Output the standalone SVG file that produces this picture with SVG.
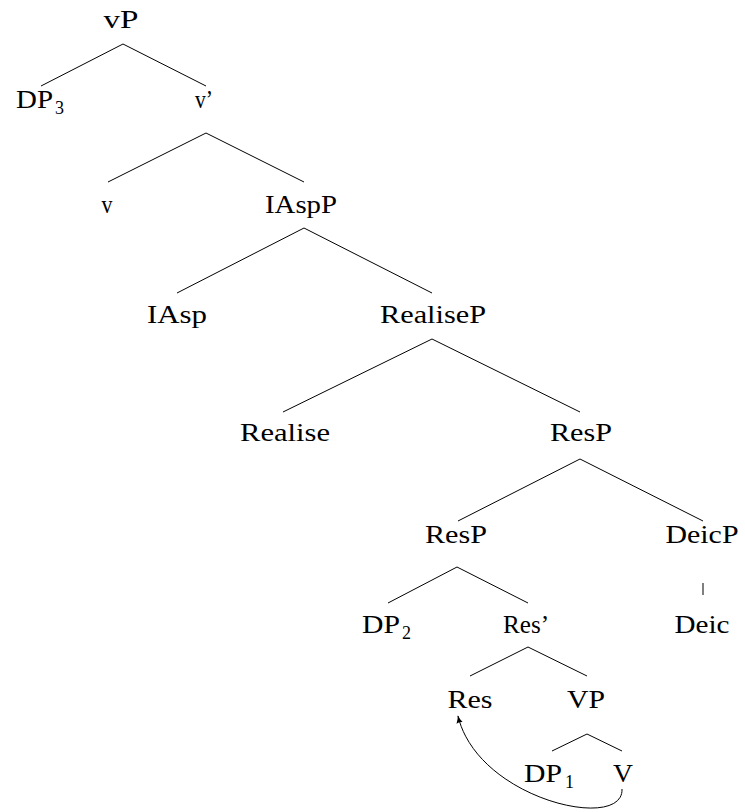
<svg xmlns="http://www.w3.org/2000/svg" width="745" height="812" viewBox="0 0 745 812">
<style>
text{font-family:"Liberation Serif","Times New Roman",serif;font-size:25px;fill:#000}
.c{text-anchor:middle}
.sub{font-size:18px}
.e{stroke:#000;stroke-width:1;fill:none}
</style>
<defs>
<marker id="ah" viewBox="0 0 10 10" refX="9" refY="5" markerWidth="8" markerHeight="8" markerUnits="userSpaceOnUse" orient="auto">
<path d="M0,1 Q5,4 10,5 Q5,6 0,9 Q2,5 0,1 Z" fill="#000"/>
</marker>
</defs>
<rect width="745" height="812" fill="#fff"/>
<g id="connectors" class="e">
<line x1="123" y1="44" x2="41" y2="86"/>
<line x1="123" y1="44" x2="206" y2="86"/>
<line x1="206" y1="133" x2="108" y2="182"/>
<line x1="206" y1="133" x2="304" y2="182"/>
<line x1="304" y1="228" x2="177" y2="293"/>
<line x1="304" y1="228" x2="432" y2="293"/>
<line x1="432" y1="339" x2="283" y2="412"/>
<line x1="432" y1="339" x2="580" y2="412"/>
<line x1="580" y1="459" x2="458" y2="521"/>
<line x1="580" y1="459" x2="703" y2="521"/>
<line x1="457" y1="567" x2="388" y2="603"/>
<line x1="457" y1="567" x2="528" y2="603"/>
<line x1="703" y1="583" x2="703" y2="595"/>
<line x1="528" y1="647" x2="470" y2="676"/>
<line x1="528" y1="647" x2="587" y2="676"/>
<line x1="587" y1="734" x2="552" y2="751"/>
<line x1="587" y1="734" x2="622" y2="751"/>
<path d="M622,789 C624,832 478,800 458,716" marker-end="url(#ah)"/>
</g>
<g id="vP"><text class="c" x="121" y="28" textLength="35" lengthAdjust="spacingAndGlyphs">vP</text></g>
<g id="DP3"><text x="16" y="108" textLength="37" lengthAdjust="spacingAndGlyphs">DP</text><text class="sub" x="55" y="114">3</text></g>
<g id="vbar"><text class="c" x="204" y="108" textLength="18" lengthAdjust="spacingAndGlyphs">v’</text></g>
<g id="v"><text class="c" x="107" y="213" textLength="11" lengthAdjust="spacingAndGlyphs">v</text></g>
<g id="IAspP"><text class="c" x="301" y="213" textLength="72" lengthAdjust="spacingAndGlyphs">IAspP</text></g>
<g id="IAsp"><text class="c" x="177" y="323" textLength="60" lengthAdjust="spacingAndGlyphs">IAsp</text></g>
<g id="RealiseP"><text class="c" x="433" y="323" textLength="106" lengthAdjust="spacingAndGlyphs">RealiseP</text></g>
<g id="Realise"><text class="c" x="285" y="441" textLength="90" lengthAdjust="spacingAndGlyphs">Realise</text></g>
<g id="ResP1"><text class="c" x="581" y="441" textLength="62" lengthAdjust="spacingAndGlyphs">ResP</text></g>
<g id="ResP2"><text class="c" x="456" y="543" textLength="62" lengthAdjust="spacingAndGlyphs">ResP</text></g>
<g id="DeicP"><text class="c" x="702" y="543" textLength="73" lengthAdjust="spacingAndGlyphs">DeicP</text></g>
<g id="DP2"><text x="362" y="633" textLength="38" lengthAdjust="spacingAndGlyphs">DP</text><text class="sub" x="402" y="639">2</text></g>
<g id="Resbar"><text class="c" x="526" y="633" textLength="46" lengthAdjust="spacingAndGlyphs">Res’</text></g>
<g id="Deic"><text class="c" x="702" y="633" textLength="55" lengthAdjust="spacingAndGlyphs">Deic</text></g>
<g id="Res"><text class="c" x="470" y="708" textLength="45" lengthAdjust="spacingAndGlyphs">Res</text></g>
<g id="VP"><text class="c" x="586" y="708" textLength="38" lengthAdjust="spacingAndGlyphs">VP</text></g>
<g id="DP1"><text x="524" y="782" textLength="38" lengthAdjust="spacingAndGlyphs">DP</text><text class="sub" x="565" y="788">1</text></g>
<g id="V"><text class="c" x="623" y="782" textLength="20" lengthAdjust="spacingAndGlyphs">V</text></g>
</svg>
